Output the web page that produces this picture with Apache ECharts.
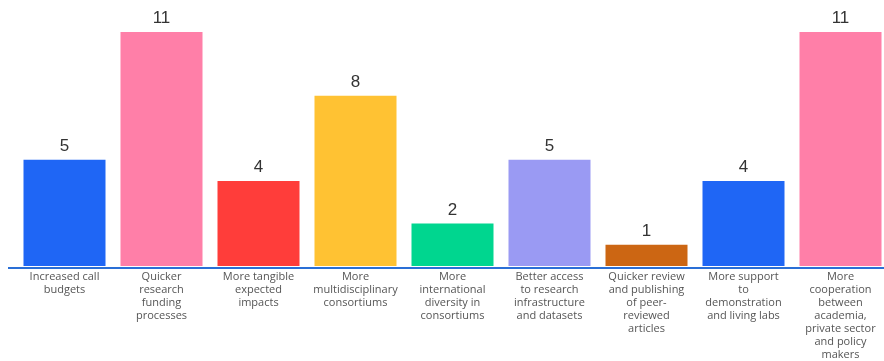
<!DOCTYPE html>
<html>
<head>
<meta charset="utf-8">
<script src="https://cdn.jsdelivr.net/npm/echarts@6/dist/echarts.min.js"></script>
<style>
  html, body { margin: 0; padding: 0; background: #ffffff; overflow: hidden; }
  #chart { width: 890px; height: 361px; }
</style>
</head>
<body>
<div id="chart"></div>
<script>
// Improvement areas and the number of mentions for each
const categories = [
  'Increased call\nbudgets',
  'Quicker\nresearch\nfunding\nprocesses',
  'More tangible\nexpected\nimpacts',
  'More\nmultidisciplinary\nconsortiums',
  'More\ninternational\ndiversity in\nconsortiums',
  'Better access\nto research\ninfrastructure\nand datasets',
  'Quicker review\nand publishing\nof peer-\nreviewed\narticles',
  'More support\nto\ndemonstration\nand living labs',
  'More\ncooperation\nbetween\nacademia,\nprivate sector\nand policy\nmakers'
];
const mentions = [5, 11, 4, 8, 2, 5, 1, 4, 11];
const barColors = ['#1f66f5', '#ff7fa8', '#ff3d3a', '#ffc233', '#00d68f', '#9a9af3', '#cc6613', '#1f66f5', '#ff7fa8'];

const chart = echarts.init(document.getElementById('chart'));
const gridTop = 32, gridBottom = 93;
chart.setOption({
  animation: false,
  grid: { left: 16, right: 1, top: gridTop, bottom: gridBottom },
  xAxis: {
    type: 'category',
    data: categories,
    axisLine: { show: false },
    axisTick: { show: false },
    axisLabel: {
      interval: 0,
      margin: 4,
      color: '#555555',
      fontFamily: '"Open Sans", sans-serif',
      fontSize: 11,
      lineHeight: 13
    }
  },
  yAxis: {
    type: 'value',
    min: 0,
    max: 11,
    show: false,
    splitLine: { show: false }
  },
  // baseline rule running the full width under the bars
  graphic: [{
    type: 'line',
    shape: { x1: 8, y1: 361 - gridBottom, x2: 884, y2: 361 - gridBottom },
    style: { stroke: '#2a6fd6', lineWidth: 2 },
    z: 10
  }],
  series: [{
    type: 'bar',
    data: mentions.map((v, i) => ({ value: v, itemStyle: { color: barColors[i] } })),
    barWidth: 82,
    label: {
      show: true,
      position: 'top',
      distance: 5,
      color: '#333333',
      fontFamily: '"Liberation Sans", Arial, sans-serif',
      fontSize: 17
    }
  }]
});
</script>
</body>
</html>
